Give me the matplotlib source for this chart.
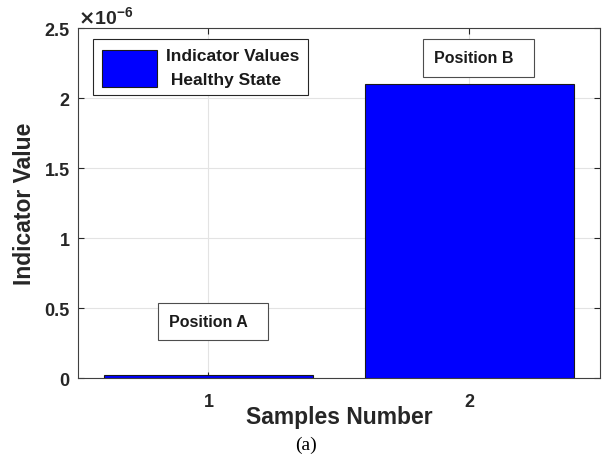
import numpy as np
import matplotlib.pyplot as plt

samples = [1, 2]
indicator_values = [0.025e-6, 2.1e-6]
legend_label = "Indicator Values\n Healthy State"
annotations = ["Position A", "Position B"]

plt.rcParams["font.family"] = ["Liberation Sans", "DejaVu Sans"]
plt.rcParams["font.weight"] = "bold"

fig = plt.figure(figsize=(6.12, 4.64), dpi=100)
ax = fig.add_axes([0.1275, 0.183, 0.8525, 0.7545])

text_col = "#262626"
ax.bar(samples, indicator_values, width=0.8, color="#0000ff",
       edgecolor="#1a1a1a", linewidth=0.8, label=legend_label, zorder=3)

ax.set_xlim(0.5, 2.5)
ax.set_ylim(0, 2.5e-6)
ax.set_xticks(samples)
ax.set_yticks(np.arange(0, 2.51e-6, 0.5e-6))
ax.set_yticklabels(["0", "0.5", "1", "1.5", "2", "2.5"])
ax.tick_params(direction="in", length=4, width=0.8, colors=text_col,
               labelsize=13, top=True, right=True, pad=6)
ax.tick_params(axis="x", pad=11)
ax.grid(True, color="#e3e3e3", linewidth=0.8, zorder=0)
ax.set_axisbelow(True)
for s in ax.spines.values():
    s.set_color("#404040")
    s.set_linewidth(0.8)

ax.set_xlabel("Samples Number", fontsize=16.5, fontweight="bold", color=text_col, labelpad=-4)
ax.set_ylabel("Indicator Value", fontsize=16.5, fontweight="bold", color=text_col, labelpad=6)

ax.text(0.0, 1.0, r"$\times$10$^{\mathregular{-6}}$", transform=ax.transAxes, fontsize=14,
        color=text_col, ha="left", va="bottom", fontweight="bold")

# annotation boxes
ann_pos = [(1.017, 0.404e-6), (2.036, 2.286e-6)]
for label, (x, y) in zip(annotations, ann_pos):
    ax.text(x, y, label + "  ", ha="center", va="center", fontsize=11.5, fontweight="bold",
            color="#1a1a1a", zorder=5,
            bbox=dict(boxstyle="square,pad=0.7", fc="white", ec="#4d4d4d", lw=0.8))

leg = ax.legend(loc="upper left", bbox_to_anchor=(0.029, 0.9686), fancybox=False,
                edgecolor="#262626", handlelength=3.2, handleheight=2.9,
                fontsize=12.5, borderpad=0.5, borderaxespad=0, handletextpad=0.5,
                framealpha=1)
leg.get_frame().set_linewidth(0.8)
for t in leg.get_texts():
    t.set_color("#1a1a1a")
    t.set_linespacing(1.75)

fig.text(0.5, 0.04, "(a)", ha="center", va="center", fontsize=14,
         family="Liberation Serif", fontweight="normal", color="black")

fig.savefig("out.png", dpi=100)
